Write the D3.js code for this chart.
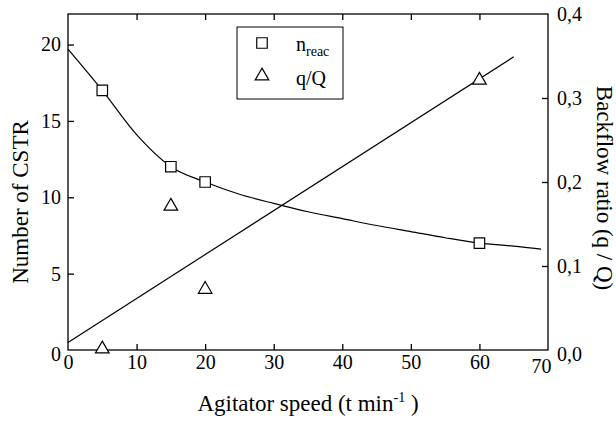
<!DOCTYPE html>
<html>
<head>
<meta charset="utf-8">
<script src="https://cdn.jsdelivr.net/npm/d3@7"></script>
<style>
  body { margin: 0; background: #fff; }
  svg text { font-family: "Liberation Serif", "Times New Roman", "DejaVu Serif", serif !important; fill: #000; }
</style>
</head>
<body>
<svg id="chart" width="616" height="421"></svg>
<script>
var width = 616, height = 421;

// measured points
var speed = [5, 15, 20, 60];
var nReac = [17, 12, 11, 7];
var backflow = [0.0, 0.17, 0.071, 0.32];

// fitted curve for n_reac
var curveX = [0, 5, 10, 15, 20, 25, 30, 35, 40, 45, 50, 55, 60, 65, 69];
var curveY = [19.7, 17, 14.1, 12, 11, 10.2, 9.6, 9.05, 8.6, 8.15, 7.75, 7.35, 7.0, 6.8, 6.6];

// linear fit for q/Q
var lineX = [0, 65];
var lineY = [0.009, 0.349];

var xTicks = [0, 10, 20, 30, 40, 50, 60, 70];
var leftTicks = [0, 5, 10, 15, 20];
var rightTicks = [0, 0.1, 0.2, 0.3, 0.4];

var margin = {left: 68, right: 68, top: 14, bottom: 71};

function draw() {
  var svg = d3.select("svg"),
      x = d3.scaleLinear().domain([0, 70]).range([margin.left, width - margin.right]),
      yL = d3.scaleLinear().domain([0, 22]).range([height - margin.bottom, margin.top]),
      yR = d3.scaleLinear().domain([0, 0.4]).range([height - margin.bottom, margin.top]);

  var x0 = x(0), x1 = x(70), yb = yL(0), yt = margin.top;

  // frame
  svg.append("rect")
    .attr("x", x0).attr("y", yt)
    .attr("width", x1 - x0).attr("height", yb - yt)
    .attr("fill", "none").attr("stroke", "#000").attr("stroke-width", 1.3);

  // bottom axis, ticks inward
  var bottom = svg.append("g").attr("transform", "translate(0," + yb + ")")
    .call(d3.axisBottom(x).tickValues(xTicks).tickSize(-6).tickPadding(5).tickFormat(d3.format("d")));
  bottom.select(".domain").remove();
  bottom.selectAll("text").style("font-size", "20px");
  bottom.selectAll(".tick").filter(function(d) { return d == 0 || d == 70; }).select("line").remove();
  bottom.selectAll(".tick").filter(function(d) { return d == 70; }).select("text").attr("dx", -7).attr("y", 9);

  // top axis ticks (no labels)
  var top = svg.append("g").attr("transform", "translate(0," + yt + ")")
    .call(d3.axisTop(x).tickValues(xTicks.slice(1, -1)).tickSize(-6).tickFormat(""));
  top.select(".domain").remove();

  // left axis
  var left = svg.append("g").attr("transform", "translate(" + x0 + ",0)")
    .call(d3.axisLeft(yL).tickValues(leftTicks).tickSize(-6).tickPadding(7).tickFormat(d3.format("d")));
  left.select(".domain").remove();
  left.selectAll("text").style("font-size", "20px");
  left.selectAll(".tick").filter(function(d) { return d == 0; }).select("line").remove();
  left.selectAll(".tick").filter(function(d) { return d == 0; }).select("text").attr("y", 4);

  // right axis
  var right = svg.append("g").attr("transform", "translate(" + x1 + ",0)")
    .call(d3.axisRight(yR).tickValues(rightTicks).tickSize(-6).tickPadding(9)
      .tickFormat(function(d) { return d3.format(".1f")(d).replace(".", ","); }));
  right.select(".domain").remove();
  right.selectAll("text").style("font-size", "20px");
  right.selectAll(".tick").filter(function(d) { return d == 0 || d == 0.4; }).select("line").remove();
  right.selectAll(".tick").filter(function(d) { return d == 0; }).select("text").attr("y", 4);

  svg.selectAll(".tick line").attr("stroke-width", 1.3);

  // curve
  var curveLine = d3.line().x(function(d) { return x(d[0]); }).y(function(d) { return yL(d[1]); }).curve(d3.curveMonotoneX);
  svg.append("path")
    .attr("d", curveLine(d3.zip(curveX, curveY)))
    .attr("fill", "none").attr("stroke", "#000").attr("stroke-width", 1.2);

  // straight line
  var fitLine = d3.line().x(function(d) { return x(d[0]); }).y(function(d) { return yR(d[1]); });
  svg.append("path")
    .attr("d", fitLine(d3.zip(lineX, lineY)))
    .attr("fill", "none").attr("stroke", "#000").attr("stroke-width", 1.2);

  var sq = d3.symbol().type(d3.symbolSquare).size(110),
      tri = d3.symbol().type(d3.symbolTriangle).size(80);

  svg.append("g").selectAll("path")
    .data(d3.zip(speed, nReac)).enter().append("path")
    .attr("d", sq)
    .attr("transform", function(d) { return "translate(" + x(d[0]) + "," + yL(d[1]) + ")"; })
    .attr("fill", "#fff").attr("stroke", "#000").attr("stroke-width", 1.2);

  svg.append("g").selectAll("path")
    .data(d3.zip(speed, backflow)).enter().append("path")
    .attr("d", tri)
    .attr("transform", function(d) { return "translate(" + x(d[0]) + "," + (yR(d[1]) - 1) + ")"; })
    .attr("fill", "#fff").attr("stroke", "#000").attr("stroke-width", 1.2);

  // legend
  var lg = svg.append("g").attr("transform", "translate(237,27)");
  lg.append("rect").attr("width", 106).attr("height", 72)
    .attr("fill", "#fff").attr("stroke", "#000").attr("stroke-width", 1);
  lg.append("path").attr("d", sq).attr("transform", "translate(25,16)")
    .attr("fill", "#fff").attr("stroke", "#000").attr("stroke-width", 1.2);
  lg.append("path").attr("d", tri).attr("transform", "translate(25,49)")
    .attr("fill", "#fff").attr("stroke", "#000").attr("stroke-width", 1.2);
  var t1 = lg.append("text").attr("x", 59).attr("y", 24).style("font-size", "20px");
  t1.append("tspan").text("n");
  t1.append("tspan").attr("dy", 5).style("font-size", "14px").text("reac");
  lg.append("text").attr("x", 59).attr("y", 58).style("font-size", "20px").text("q/Q");

  // axis titles
  var xt = svg.append("text").attr("x", 308).attr("y", 411)
    .attr("text-anchor", "middle").style("font-size", "23px");
  xt.append("tspan").text("Agitator speed (t min");
  xt.append("tspan").attr("dy", -9).style("font-size", "14px").text("-1");
  xt.append("tspan").attr("dy", 9).text(" )");

  svg.append("text")
    .attr("transform", "translate(28,202) rotate(-90)")
    .attr("text-anchor", "middle").style("font-size", "23px")
    .text("Number of CSTR");

  svg.append("text")
    .attr("transform", "translate(597,188) rotate(90)")
    .attr("text-anchor", "middle").style("font-size", "23px")
    .text("Backflow ratio (q / Q)");
}

draw();
</script>
</body>
</html>
